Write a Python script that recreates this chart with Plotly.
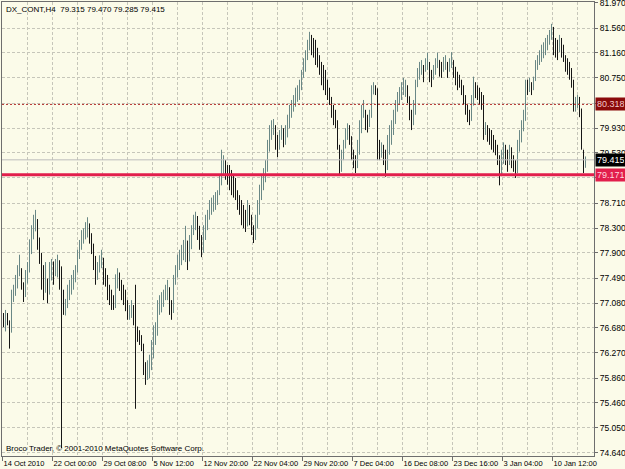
import plotly.graph_objects as go

# ---------------- data (H4 bars, DX_CONT) ----------------
opens = [
    76.86, 76.75, 76.88, 76.78, 76.62, 77.12, 77.25, 77.35, 77.58, 77.62,
    77.40, 77.20, 77.48, 77.62, 77.92, 78.20, 78.36, 78.42, 78.10, 77.85,
    77.50, 77.30, 77.45, 77.25, 77.60, 77.70, 77.55, 77.70, 77.75, 77.45,
    77.15, 76.98, 77.05, 77.20, 77.32, 77.40, 77.48, 77.62, 77.85, 78.00,
    78.15, 78.20, 78.30, 78.35, 78.15, 78.00, 77.75, 77.50, 77.62, 77.75,
    77.80, 77.50, 77.45, 77.25, 77.15, 77.05, 77.02, 77.35, 77.45, 77.40,
    77.25, 77.15, 77.00, 76.86, 76.88, 76.92, 76.80, 76.68, 76.55, 76.46,
    76.40, 76.08, 75.85, 75.95, 76.02, 76.20, 76.45, 76.58, 76.95, 77.00,
    77.05, 77.15, 77.25, 77.30, 77.00, 76.95, 77.40, 77.55, 77.75, 77.80,
    77.90, 78.00, 78.05, 77.80, 78.00, 78.20, 78.35, 78.45, 78.30, 78.10,
    77.95, 78.15, 78.30, 78.45, 78.60, 78.65, 78.75, 78.80, 78.85, 79.05,
    79.30, 79.30, 79.20, 79.10, 79.05, 78.95, 78.90, 78.85, 78.75, 78.65,
    78.50, 78.45, 78.35, 78.55, 78.50, 78.30, 78.15, 78.30, 78.55, 78.80,
    79.00, 79.10, 79.25, 79.55, 79.80, 79.90, 79.95, 79.80, 79.60, 79.70,
    79.85, 79.75, 79.80, 79.95, 80.15, 80.25, 80.35, 80.45, 80.55, 80.60,
    80.75, 80.95, 81.05, 81.20, 81.35, 81.30, 81.25, 81.15, 81.05, 80.95,
    80.80, 80.70, 80.65, 80.50, 80.40, 80.20, 80.10, 80.05, 79.75, 79.35,
    79.38, 79.55, 79.80, 79.90, 79.80, 79.55, 79.40, 79.30, 79.50, 79.85,
    80.10, 80.20, 80.05, 79.95, 80.10, 80.50, 80.60, 80.55, 79.60, 79.50,
    79.55, 79.40, 79.25, 79.50, 79.70, 79.85, 80.00, 80.20, 80.35, 80.45,
    80.55, 80.60, 80.62, 80.45, 80.20, 80.00, 80.15, 80.60, 80.80, 80.90,
    80.95, 80.85, 81.00, 81.05, 80.85, 80.75, 80.85, 80.95, 81.05, 80.90,
    80.85, 80.95, 81.00, 80.85, 80.95, 81.05, 80.85, 80.75, 80.65, 80.62,
    80.55, 80.40, 80.25, 80.10, 80.05, 80.30, 80.60, 80.55, 80.50, 80.40,
    80.30, 79.80, 79.90, 79.80, 79.75, 79.65, 79.60, 79.50, 79.40, 79.15,
    79.35, 79.55, 79.45, 79.35, 79.45, 79.40, 79.30, 79.20, 79.55, 79.70,
    79.90, 80.05, 80.60, 80.58, 80.65, 80.60, 80.70, 80.95, 81.05, 81.15,
    81.20, 81.25, 81.30, 81.40, 81.45, 81.55, 81.30, 81.25, 81.20, 81.35,
    81.25, 81.15, 81.00, 80.95, 80.85, 80.70, 80.30, 80.32, 80.35, 80.25,
    79.60, 79.315,
]
highs = [
    76.92, 76.97, 76.92, 76.80, 77.30, 77.38, 77.54, 77.70, 77.87, 77.65,
    77.42, 77.62, 77.75, 78.12, 78.35, 78.52, 78.60, 78.45, 78.15, 77.90,
    77.70, 77.75, 77.48, 77.75, 77.80, 77.76, 77.80, 77.87, 77.78, 77.68,
    77.30, 77.15, 77.38, 77.46, 77.54, 77.62, 77.70, 77.95, 78.11, 78.27,
    78.30, 78.40, 78.48, 78.38, 78.22, 78.05, 77.85, 77.75, 77.86, 77.95,
    77.82, 77.65, 77.54, 77.38, 77.30, 77.21, 77.55, 77.65, 77.58, 77.46,
    77.38, 77.30, 77.13, 77.05, 77.13, 77.05, 77.38, 76.70, 76.64, 76.56,
    76.42, 76.12, 76.15, 76.24, 76.48, 76.72, 76.77, 77.13, 77.21, 77.26,
    77.30, 77.38, 77.46, 77.34, 77.13, 77.54, 77.70, 77.87, 77.95, 78.03,
    78.11, 78.34, 78.10, 78.19, 78.35, 78.52, 78.57, 78.50, 78.34, 78.19,
    78.35, 78.52, 78.60, 78.76, 78.80, 78.84, 78.89, 78.92, 79.17, 79.58,
    79.49, 79.41, 79.33, 79.33, 79.25, 79.17, 79.12, 78.92, 78.84, 78.76,
    78.68, 78.60, 78.76, 78.68, 78.52, 78.35, 78.52, 78.76, 79.01, 79.17,
    79.28, 79.41, 79.74, 79.98, 80.06, 80.08, 79.98, 79.82, 79.90, 79.98,
    79.93, 79.98, 80.15, 80.31, 80.39, 80.47, 80.59, 80.63, 80.72, 80.88,
    81.07, 81.20, 81.37, 81.50, 81.45, 81.40, 81.37, 81.24, 81.12, 81.01,
    80.96, 80.88, 80.72, 80.59, 80.44, 80.31, 80.23, 80.06, 79.66, 79.58,
    79.74, 79.93, 80.01, 79.98, 79.80, 79.58, 79.49, 79.74, 80.06, 80.31,
    80.39, 80.23, 80.15, 80.23, 80.63, 80.68, 80.63, 80.58, 79.74, 79.70,
    79.66, 79.58, 79.82, 79.98, 80.06, 80.23, 80.39, 80.52, 80.60, 80.68,
    80.75, 80.72, 80.63, 80.45, 80.23, 80.39, 80.72, 80.91, 81.01, 81.04,
    80.96, 81.07, 81.16, 81.01, 80.88, 80.96, 81.07, 81.16, 81.04, 81.01,
    81.09, 81.12, 81.01, 81.07, 81.17, 81.04, 80.93, 80.85, 80.80, 80.72,
    80.63, 80.47, 80.31, 80.23, 80.47, 80.77, 80.68, 80.63, 80.59, 80.52,
    80.47, 80.03, 79.98, 79.93, 79.90, 79.82, 79.74, 79.66, 79.49, 79.58,
    79.70, 79.66, 79.58, 79.66, 79.62, 79.49, 79.41, 79.74, 79.90, 80.06,
    80.23, 80.72, 80.72, 80.75, 80.68, 80.77, 81.04, 81.12, 81.20, 81.29,
    81.33, 81.40, 81.45, 81.53, 81.63, 81.58, 81.40, 81.37, 81.45, 81.40,
    81.29, 81.12, 81.07, 81.01, 80.91, 80.72, 80.44, 80.47, 80.44, 80.25,
    79.58, 79.470,
]
lows = [
    76.69, 76.62, 76.72, 76.34, 76.60, 77.10, 77.20, 77.32, 77.52, 77.30,
    77.10, 77.18, 77.40, 77.58, 77.88, 78.12, 78.25, 77.95, 77.72, 77.30,
    77.13, 77.25, 77.08, 77.22, 77.45, 77.38, 77.52, 77.50, 77.30, 74.72,
    76.89, 76.88, 77.00, 77.13, 77.22, 77.30, 77.42, 77.58, 77.80, 77.95,
    78.05, 78.12, 78.15, 78.05, 77.88, 77.62, 77.38, 77.46, 77.58, 77.65,
    77.38, 77.35, 77.13, 77.05, 76.97, 76.97, 77.00, 77.32, 77.28, 77.13,
    77.05, 76.95, 76.81, 76.81, 76.84, 76.72, 75.36, 76.45, 76.40, 76.30,
    75.91, 75.75, 75.83, 75.86, 75.99, 76.18, 76.40, 76.55, 76.89, 76.93,
    77.02, 77.13, 77.13, 76.89, 76.81, 76.92, 77.38, 77.50, 77.62, 77.70,
    77.78, 77.75, 77.62, 77.76, 77.96, 78.19, 78.27, 78.11, 77.95, 77.83,
    77.90, 78.11, 78.27, 78.44, 78.52, 78.57, 78.60, 78.68, 78.84, 79.00,
    79.17, 79.09, 79.01, 78.92, 78.84, 78.80, 78.76, 78.60, 78.52, 78.35,
    78.30, 78.24, 78.33, 78.35, 78.19, 78.06, 78.11, 78.30, 78.52, 78.76,
    78.92, 79.05, 79.22, 79.55, 79.74, 79.82, 79.58, 79.46, 79.58, 79.74,
    79.62, 79.66, 79.78, 79.93, 80.10, 80.20, 80.28, 80.36, 80.39, 80.55,
    80.75, 80.85, 81.04, 81.20, 81.12, 81.08, 80.96, 80.92, 80.80, 80.63,
    80.55, 80.47, 80.39, 80.31, 80.10, 79.98, 79.93, 79.58, 79.17, 79.22,
    79.41, 79.60, 79.74, 79.66, 79.41, 79.28, 79.20, 79.28, 79.50, 79.85,
    80.10, 79.90, 79.86, 79.95, 80.10, 80.48, 80.47, 79.41, 79.41, 79.45,
    79.33, 79.14, 79.25, 79.50, 79.66, 79.82, 80.00, 80.20, 80.31, 80.39,
    80.47, 80.44, 80.34, 80.06, 79.90, 79.98, 80.15, 80.60, 80.72, 80.80,
    80.68, 80.85, 80.88, 80.68, 80.60, 80.72, 80.80, 80.91, 80.77, 80.75,
    80.85, 80.88, 80.75, 80.85, 80.91, 80.75, 80.63, 80.55, 80.59, 80.47,
    80.31, 80.15, 80.03, 79.98, 80.05, 80.30, 80.42, 80.39, 80.31, 80.23,
    79.74, 79.82, 79.71, 79.66, 79.58, 79.54, 79.49, 79.33, 79.00, 79.15,
    79.35, 79.33, 79.22, 79.33, 79.28, 79.22, 79.12, 79.20, 79.55, 79.70,
    79.88, 80.05, 80.47, 80.52, 80.47, 80.55, 80.70, 80.88, 80.96, 81.01,
    81.07, 81.12, 81.20, 81.29, 81.37, 81.12, 81.08, 81.04, 81.17, 81.08,
    81.01, 80.85, 80.80, 80.72, 80.59, 80.20, 80.20, 80.26, 80.11, 79.58,
    79.20, 79.285,
]
closes = [
    76.75, 76.88, 76.78, 76.62, 77.12, 77.25, 77.35, 77.58, 77.62, 77.40,
    77.20, 77.48, 77.62, 77.92, 78.20, 78.36, 78.42, 78.10, 77.85, 77.50,
    77.30, 77.45, 77.25, 77.60, 77.70, 77.55, 77.70, 77.75, 77.45, 77.15,
    76.98, 77.05, 77.20, 77.32, 77.40, 77.48, 77.62, 77.85, 78.00, 78.15,
    78.20, 78.30, 78.35, 78.15, 78.00, 77.75, 77.50, 77.62, 77.75, 77.80,
    77.50, 77.45, 77.25, 77.15, 77.05, 77.02, 77.35, 77.45, 77.40, 77.25,
    77.15, 77.00, 76.86, 76.88, 76.92, 76.80, 76.68, 76.55, 76.46, 76.40,
    76.08, 75.85, 75.95, 76.02, 76.20, 76.45, 76.58, 76.95, 77.00, 77.05,
    77.15, 77.25, 77.30, 77.00, 76.95, 77.40, 77.55, 77.75, 77.80, 77.90,
    78.00, 78.05, 77.80, 78.00, 78.20, 78.35, 78.45, 78.30, 78.10, 77.95,
    78.15, 78.30, 78.45, 78.60, 78.65, 78.75, 78.80, 78.85, 79.05, 79.30,
    79.30, 79.20, 79.10, 79.05, 78.95, 78.90, 78.85, 78.75, 78.65, 78.50,
    78.45, 78.35, 78.55, 78.50, 78.30, 78.15, 78.30, 78.55, 78.80, 79.00,
    79.10, 79.25, 79.55, 79.80, 79.90, 79.95, 79.80, 79.60, 79.70, 79.85,
    79.75, 79.80, 79.95, 80.15, 80.25, 80.35, 80.45, 80.55, 80.60, 80.75,
    80.95, 81.05, 81.20, 81.35, 81.30, 81.25, 81.15, 81.05, 80.95, 80.80,
    80.70, 80.65, 80.50, 80.40, 80.20, 80.10, 80.05, 79.75, 79.35, 79.38,
    79.55, 79.80, 79.90, 79.80, 79.55, 79.40, 79.30, 79.50, 79.85, 80.10,
    80.20, 80.05, 79.95, 80.10, 80.50, 80.60, 80.55, 79.60, 79.50, 79.55,
    79.40, 79.25, 79.50, 79.70, 79.85, 80.00, 80.20, 80.35, 80.45, 80.55,
    80.60, 80.62, 80.45, 80.20, 80.00, 80.15, 80.60, 80.80, 80.90, 80.95,
    80.85, 81.00, 81.05, 80.85, 80.75, 80.85, 80.95, 81.05, 80.90, 80.85,
    80.95, 81.00, 80.85, 80.95, 81.05, 80.85, 80.75, 80.65, 80.62, 80.55,
    80.40, 80.25, 80.10, 80.05, 80.30, 80.60, 80.55, 80.50, 80.40, 80.30,
    79.80, 79.90, 79.80, 79.75, 79.65, 79.60, 79.50, 79.40, 79.15, 79.35,
    79.55, 79.45, 79.35, 79.45, 79.40, 79.30, 79.20, 79.55, 79.70, 79.90,
    80.05, 80.60, 80.58, 80.65, 80.60, 80.70, 80.95, 81.05, 81.15, 81.20,
    81.25, 81.30, 81.40, 81.45, 81.55, 81.30, 81.25, 81.20, 81.35, 81.25,
    81.15, 81.00, 80.95, 80.85, 80.70, 80.30, 80.32, 80.35, 80.25, 79.60,
    79.32, 79.415,
]

price_ticks = [81.970, 81.560, 81.160, 80.750, 80.340, 79.930, 79.530, 79.120,
               78.710, 78.300, 77.900, 77.490, 77.080, 76.680, 76.270, 75.860,
               75.460, 75.050, 74.640]
date_labels = ["14 Oct 2010", "22 Oct 00:00", "29 Oct 08:00", "5 Nov 12:00",
               "12 Nov 20:00", "22 Nov 04:00", "29 Nov 20:00", "7 Dec 04:00",
               "16 Dec 08:00", "23 Dec 16:00", "3 Jan 04:00", "10 Jan 12:00"]

level_dotted = 80.318
level_support = 79.171
bid_price = 79.415
title_text = "DX_CONT,H4  79.315 79.470 79.285 79.415"
copyright_text = "Broco Trader, \u00a9 2001-2010 MetaQuotes Software Corp."

# ---------------- styles ----------------
BG = "#FBFBE9"
GRID = "#C6C6BA"
AXIS = "#6E6E6E"
UP = "#6A8886"
DOWN = "#161616"
FONT = "Liberation Sans"

bars_per_label = 25
x_index = list(range(len(closes)))

fig = go.Figure()
fig.add_trace(go.Ohlc(
    x=x_index, open=opens, high=highs, low=lows, close=closes,
    increasing=dict(line=dict(color=UP, width=1)),
    decreasing=dict(line=dict(color=DOWN, width=1)),
    tickwidth=0.05, hoverinfo="skip", showlegend=False,
))

# horizontal level lines
fig.add_shape(type="line", xref="paper", x0=0, x1=1, yref="y",
              y0=level_dotted, y1=level_dotted,
              line=dict(color="#B02A28", width=1, dash="2px,2px"), layer="above")
fig.add_shape(type="line", xref="paper", x0=0, x1=1, yref="y",
              y0=bid_price, y1=bid_price,
              line=dict(color="#BDBDBD", width=1), layer="above")
fig.add_shape(type="line", xref="paper", x0=0, x1=1, yref="y",
              y0=level_support, y1=level_support,
              line=dict(color="#E21E4C", width=3), layer="above")

# price label boxes on the right axis
for val, bg, fg in [(level_dotted, "#8A0A0A", "#F2C8C8"),
                    (bid_price, "#000000", "#FFFFFF"),
                    (level_support, "#E21E4C", "#FFD6DF")]:
    fig.add_annotation(xref="paper", x=1, xanchor="left", xshift=1,
                       yref="y", y=val, yanchor="middle",
                       text=f"{val:.3f}", showarrow=False,
                       font=dict(family=FONT, size=9, color=fg),
                       bgcolor=bg, borderpad=1, width=27, height=10, align="left")

fig.add_annotation(xref="paper", yref="paper", x=0, y=1, xanchor="left", yanchor="top",
                   xshift=2, yshift=-1, text=title_text, showarrow=False,
                   font=dict(family=FONT, size=8, color="#000000"))
fig.add_annotation(xref="paper", yref="paper", x=0, y=0, xanchor="left", yanchor="bottom",
                   xshift=2, yshift=1, text=copyright_text, showarrow=False,
                   font=dict(family=FONT, size=8, color="#000000"))

label_pos = [bars_per_label * k - 0.5 for k in range(len(date_labels))]
grid_pos = [bars_per_label / 2 * k - 0.5 for k in range(2 * len(date_labels) + 1)]
tick_text = ["" if abs(v - level_dotted) < 0.05 else f"{v:.3f}" for v in price_ticks]

fig.update_layout(
    width=625, height=469,
    margin=dict(l=2, r=31, t=2, b=13, autoexpand=False),
    paper_bgcolor=BG, plot_bgcolor=BG,
    showlegend=False,
    xaxis=dict(
        range=[-0.75, 295.25], rangeslider=dict(visible=False),
        tickmode="array", tickvals=label_pos, ticktext=date_labels,
        ticks="outside", ticklen=4, tickcolor=AXIS, tickwidth=1,
        ticklabelposition="outside right", tickangle=0, automargin=False,
        ticklabeloverflow="allow",
        tickfont=dict(family=FONT, size=7.5, color="#000000"),
        showgrid=True, gridcolor=GRID, griddash="3px,2px", gridwidth=1,
        minor=dict(tickmode="array", tickvals=grid_pos, showgrid=True,
                   gridcolor=GRID, griddash="3px,2px", gridwidth=1, ticks=""),
        showline=True, linecolor=AXIS, linewidth=1, mirror=True,
        zeroline=False, fixedrange=True,
    ),
    yaxis=dict(
        side="right", range=[74.591, 81.986], automargin=False,
        tickmode="array", tickvals=price_ticks, ticktext=tick_text,
        ticks="outside", ticklen=3, tickcolor=AXIS, tickwidth=1,
        ticklabeloverflow="allow",
        tickfont=dict(family=FONT, size=8.5, color="#000000"),
        showgrid=True, gridcolor=GRID, griddash="3px,2px", gridwidth=1,
        showline=True, linecolor=AXIS, linewidth=1, mirror=True,
        zeroline=False, fixedrange=True,
    ),
)

fig.write_html("out.html")
